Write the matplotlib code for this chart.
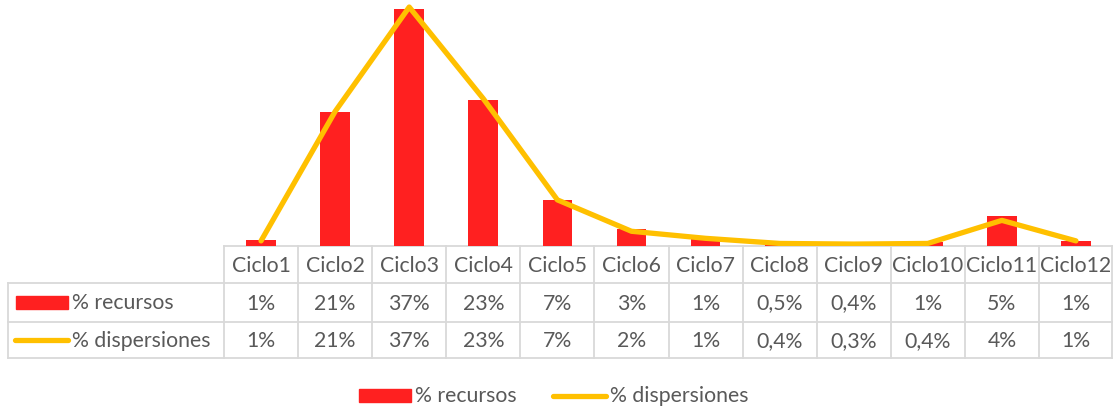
import matplotlib.pyplot as plt
from matplotlib.patches import Rectangle
from matplotlib.lines import Line2D
import numpy as np

plt.rcParams['font.family'] = ['Lato', 'DejaVu Sans']

# data
ciclos = ['Ciclo1', 'Ciclo2', 'Ciclo3', 'Ciclo4', 'Ciclo5', 'Ciclo6',
          'Ciclo7', 'Ciclo8', 'Ciclo9', 'Ciclo10', 'Ciclo11', 'Ciclo12']
recursos = [0.9, 20.9, 37.0, 22.8, 7.2, 2.6, 1.2, 0.5, 0.4, 0.6, 4.7, 0.8]
dispersiones = [0.8, 21.0, 37.3, 23.0, 7.2, 2.3, 1.2, 0.4, 0.3, 0.4, 4.0, 0.8]
recursos_lbl = ['1%', '21%', '37%', '23%', '7%', '3%', '1%', '0,5%', '0,4%', '1%', '5%', '1%']
dispersiones_lbl = ['1%', '21%', '37%', '23%', '7%', '2%', '1%', '0,4%', '0,3%', '0,4%', '4%', '1%']

W, H = 1113, 409
red = '#FF2020'
gold = '#FFC000'
grid_c = '#D9D9D9'
txt_c = '#595959'

fig = plt.figure(figsize=(W / 100, H / 100), dpi=100)

# main chart area (no visible axes)
x0, base = 224, 246
ax = fig.add_axes([x0 / W, 1 - base / H, (W - x0) / W, base / H])
x = np.arange(len(ciclos))
ax.bar(x, recursos, width=0.4, color=red, zorder=2)
ax.plot(x, dispersiones, color=gold, lw=3.8, solid_capstyle='round',
        solid_joinstyle='round', zorder=3)
ax.set_xlim(-0.5, len(ciclos) - 0.5)
ax.set_ylim(0, 38.4)
ax.axis('off')

# overlay in pixel coords for data table and legend
ov = fig.add_axes([0, 0, 1, 1], zorder=-1)
ov.set_xlim(0, W)
ov.set_ylim(H, 0)
ov.axis('off')

colw = (W - x0) / len(ciclos)
left = 8
rows = [246, 283, 322, 358]
lw = 1.3

ov.plot([x0, W], [rows[0]] * 2, color=grid_c, lw=lw)
for yy in rows[1:]:
    ov.plot([left, W], [yy] * 2, color=grid_c, lw=lw)
ov.plot([left, left], [rows[1], rows[3]], color=grid_c, lw=lw)
for i in range(len(ciclos) + 1):
    xx = min(x0 + i * colw, W - 0.7)
    ov.plot([xx, xx], [rows[0], rows[3]], color=grid_c, lw=lw)

fs = 15.3
for i, c in enumerate(ciclos):
    cx = x0 + (i + 0.5) * colw
    ov.text(cx, (rows[0] + rows[1]) / 2 + 1, c, ha='center', va='center', fontsize=fs, color=txt_c)
    ov.text(cx, (rows[1] + rows[2]) / 2 + 1, recursos_lbl[i], ha='center', va='center', fontsize=fs, color=txt_c)
    ov.text(cx, (rows[2] + rows[3]) / 2 + 1, dispersiones_lbl[i], ha='center', va='center', fontsize=fs, color=txt_c)

# row keys
ov.add_patch(Rectangle((16, 296), 52, 13, color=red))
ov.text(72, 303, '% recursos', ha='left', va='center', fontsize=fs, color=txt_c)
ov.add_line(Line2D([15, 68], [340, 340], color=gold, lw=3.8, solid_capstyle='round'))
ov.text(72, 341, '% dispersiones', ha='left', va='center', fontsize=fs, color=txt_c)

# legend
ov.add_patch(Rectangle((359, 389), 52, 13, color=red))
ov.text(415, 396, '% recursos', ha='left', va='center', fontsize=fs, color=txt_c)
ov.add_line(Line2D([553, 606], [396, 396], color=gold, lw=3.8, solid_capstyle='round'))
ov.text(610, 396, '% dispersiones', ha='left', va='center', fontsize=fs, color=txt_c)

fig.savefig('out.png', dpi=100, facecolor='white')
